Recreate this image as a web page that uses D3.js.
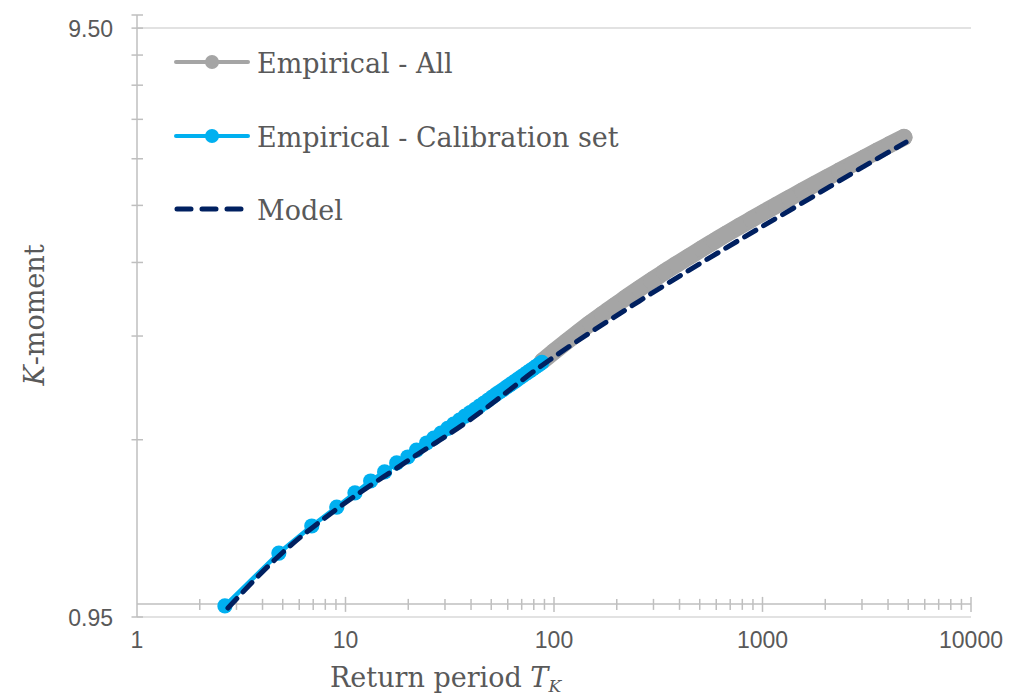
<!DOCTYPE html>
<html>
<head>
<meta charset="utf-8">
<script src="https://cdn.jsdelivr.net/npm/d3@7"></script>
<style>
  html, body { margin: 0; padding: 0; background: #fff; }
  svg { display: block; }
</style>
</head>
<body>
<svg id="chart" width="1016" height="698"></svg>
<script>
// Return periods and K-moments, calibration subset (first K values)
const calibT = [2.64, 4.79, 6.89, 9.08, 11.1, 13.2, 15.4, 17.6, 19.9, 21.9, 24.5,
  26.5, 28.7, 30.9, 33.0, 35.2, 37.4, 39.6, 41.8, 43.9, 46.1, 48.3, 50.5, 52.7,
  54.8, 57.0, 59.2, 61.4, 63.6, 65.7, 67.9, 70.1, 72.3, 74.5, 76.6, 78.8, 81.0,
  83.2, 85.4, 87.5];
const calibK = [0.992, 1.220, 1.356, 1.460, 1.543, 1.617, 1.675, 1.735, 1.776, 1.825, 1.876,
  1.912, 1.950, 1.987, 2.019, 2.051, 2.083, 2.112, 2.140, 2.167, 2.193, 2.219, 2.244, 2.268,
  2.290, 2.311, 2.333, 2.355, 2.375, 2.394, 2.414, 2.433, 2.452, 2.470, 2.487, 2.504, 2.522,
  2.538, 2.554, 2.571];

// Full empirical record (beyond the calibration range)
const allT = [88.1, 100.6, 114.8, 131.1, 149.6, 170.7, 194.9, 222.5, 256.8, 293.2,
  338.2, 386.2, 445.8, 508.9, 587.4, 670.3, 773.8, 883.4, 1019.5, 1163.9, 1343.4,
  1550.4, 1770.1, 2043.1, 2332.5, 2691.6, 3072.6, 3546.3, 4049, 4775];
const allK = [2.585, 2.686, 2.788, 2.892, 2.997, 3.102, 3.207, 3.315, 3.431, 3.539,
  3.659, 3.769, 3.890, 4.005, 4.130, 4.248, 4.376, 4.495, 4.627, 4.750, 4.885,
  5.024, 5.154, 5.297, 5.431, 5.579, 5.719, 5.873, 6.017, 6.200];

// Fitted model
const modelT = [2.73, 4.79, 9.08, 18.2, 39.4, 88.1, 256.8, 773.8, 1620, 3355, 4883];
const modelK = [0.984, 1.206, 1.449, 1.714, 2.052, 2.545, 3.268, 4.148, 4.839, 5.636, 6.082];

// Axis settings
const xDomain = [1, 10000];
const xTickLabels = [1, 10, 100, 1000, 10000];
const xAxisCross = 1.0;
const yDomain = [0.95, 10];
const yMajorTicks = [0.95, 9.5];
const yMinorTicks = [1.9, 2.85, 3.8, 4.75, 5.7, 6.65, 7.6, 8.55, 10];

const seriesNames = ["Empirical - All", "Empirical - Calibration set", "Model"];

const C_ALL = "#a5a5a5", C_CAL = "#00b0f0", C_MOD = "#002060";
const C_TEXT = "#595959", C_AXIS = "#bfbfbf", C_GRID = "#d9d9d9";

const svg = d3.select("#chart");
const x = d3.scaleLog().domain(xDomain).range([137, 971]);
const y = d3.scaleLog().domain(yDomain).range([617, 15]);

// gridlines at major y values
svg.append("g").selectAll("line").data(yMajorTicks).join("line")
  .attr("x1", x(xDomain[0])).attr("x2", x(xDomain[1]))
  .attr("y1", d => y(d)).attr("y2", d => y(d))
  .attr("stroke", C_GRID).attr("stroke-width", 1.5);

// y axis (vertical line through x = 1)
const yAx = svg.append("g");
yAx.append("line")
  .attr("x1", x(xDomain[0])).attr("x2", x(xDomain[0]))
  .attr("y1", y(yDomain[1])).attr("y2", y(yDomain[0]))
  .attr("stroke", C_AXIS).attr("stroke-width", 1.5);
yAx.selectAll("line.t").data(yMajorTicks.concat(yMinorTicks)).join("line")
  .attr("class", "t")
  .attr("x1", x(xDomain[0]) - 5.5).attr("x2", x(xDomain[0]) + 6)
  .attr("y1", d => y(d)).attr("y2", d => y(d))
  .attr("stroke", C_AXIS).attr("stroke-width", 1.5);
yAx.selectAll("text").data(yMajorTicks).join("text")
  .attr("x", x(xDomain[0]) - 24).attr("y", d => y(d) + 8.5)
  .attr("text-anchor", "end")
  .attr("font-family", "Liberation Sans, Arial, sans-serif")
  .attr("font-size", 23).attr("fill", C_TEXT)
  .text(d => d3.format(".2f")(d));

// x axis crossing at K = 1
const xAx = svg.append("g");
const yc = y(xAxisCross);
xAx.append("line")
  .attr("x1", x(xDomain[0])).attr("x2", x(xDomain[1]))
  .attr("y1", yc).attr("y2", yc)
  .attr("stroke", C_AXIS).attr("stroke-width", 1.5);
const xMinor = [];
for (let dec = 1; dec < xDomain[1]; dec *= 10) {
  for (let k = 2; k <= 9; k++) xMinor.push(dec * k);
}
xAx.selectAll("line.mn").data(xMinor).join("line")
  .attr("class", "mn")
  .attr("x1", d => x(d)).attr("x2", d => x(d))
  .attr("y1", yc - 5).attr("y2", yc + 6)
  .attr("stroke", C_AXIS).attr("stroke-width", 1.5);
xAx.selectAll("line.mj").data(xTickLabels.slice(1)).join("line")
  .attr("class", "mj")
  .attr("x1", d => x(d)).attr("x2", d => x(d))
  .attr("y1", yc - 7).attr("y2", yc + 8)
  .attr("stroke", C_AXIS).attr("stroke-width", 1.5);
xAx.selectAll("text").data(xTickLabels).join("text")
  .attr("x", d => x(d)).attr("y", 648)
  .attr("text-anchor", "middle")
  .attr("font-family", "Liberation Sans, Arial, sans-serif")
  .attr("font-size", 23).attr("fill", C_TEXT)
  .text(d => String(d));

// axis titles
const serif = "DejaVu Serif, Liberation Serif, serif";
const xt = svg.append("text")
  .attr("x", 330).attr("y", 687)
  .attr("font-family", serif).attr("font-size", 27).attr("fill", C_TEXT);
xt.append("tspan").text("Return period ");
xt.append("tspan").attr("font-style", "italic").text("T");
xt.append("tspan").attr("font-style", "italic").attr("font-size", 17).attr("dy", 5).text("K");

const yt = svg.append("text")
  .attr("transform", "translate(44,315) rotate(-90)")
  .attr("text-anchor", "middle")
  .attr("font-family", serif).attr("font-size", 27).attr("fill", C_TEXT);
yt.append("tspan").attr("font-style", "italic").text("K");
yt.append("tspan").text("-moment");

// series
const line = d3.line().x(d => x(d[0])).y(d => y(d[1]));
const allPts = allT.map((t, i) => [t, allK[i]]);
const calPts = calibT.map((t, i) => [t, calibK[i]]);
const modPts = modelT.map((t, i) => [t, modelK[i]]);

const gAll = svg.append("g");
gAll.append("path").datum(allPts).attr("d", line.curve(d3.curveMonotoneX))
  .attr("fill", "none").attr("stroke", C_ALL).attr("stroke-width", 17)
  .attr("stroke-linejoin", "round").attr("stroke-linecap", "round");
gAll.selectAll("circle").data(allPts).join("circle")
  .attr("cx", d => x(d[0])).attr("cy", d => y(d[1])).attr("r", 8.3)
  .attr("fill", C_ALL);

const gCal = svg.append("g");
gCal.append("path").datum(calPts).attr("d", line.curve(d3.curveLinear))
  .attr("fill", "none").attr("stroke", C_CAL).attr("stroke-width", 4.5)
  .attr("stroke-linejoin", "round");
gCal.selectAll("circle").data(calPts).join("circle")
  .attr("cx", d => x(d[0])).attr("cy", d => y(d[1])).attr("r", 7.6)
  .attr("fill", C_CAL);

svg.append("path").datum(modPts)
  .attr("d", line.curve(d3.curveMonotoneX))
  .attr("fill", "none").attr("stroke", C_MOD).attr("stroke-width", 5)
  .attr("stroke-dasharray", "13 9").attr("stroke-linecap", "round");

// legend
const legY = [62, 136, 209];
const leg = svg.append("g");
seriesNames.forEach((name, i) => {
  const g = leg.append("g").attr("transform", `translate(0,${legY[i]})`);
  if (i < 2) {
    const c = i === 0 ? C_ALL : C_CAL;
    g.append("line").attr("x1", 176).attr("x2", 248).attr("y1", 0).attr("y2", 0)
      .attr("stroke", c).attr("stroke-width", 4).attr("stroke-linecap", "round");
    g.append("circle").attr("cx", 212).attr("cy", 0).attr("r", 7).attr("fill", c);
  } else {
    g.append("line").attr("x1", 177).attr("x2", 246).attr("y1", 0).attr("y2", 0)
      .attr("stroke", C_MOD).attr("stroke-width", 5)
      .attr("stroke-dasharray", "14 11").attr("stroke-linecap", "round");
  }
  g.append("text").attr("x", 257).attr("y", 11)
    .attr("font-family", serif).attr("font-size", 27).attr("fill", C_TEXT)
    .text(name);
});
</script>
</body>
</html>
